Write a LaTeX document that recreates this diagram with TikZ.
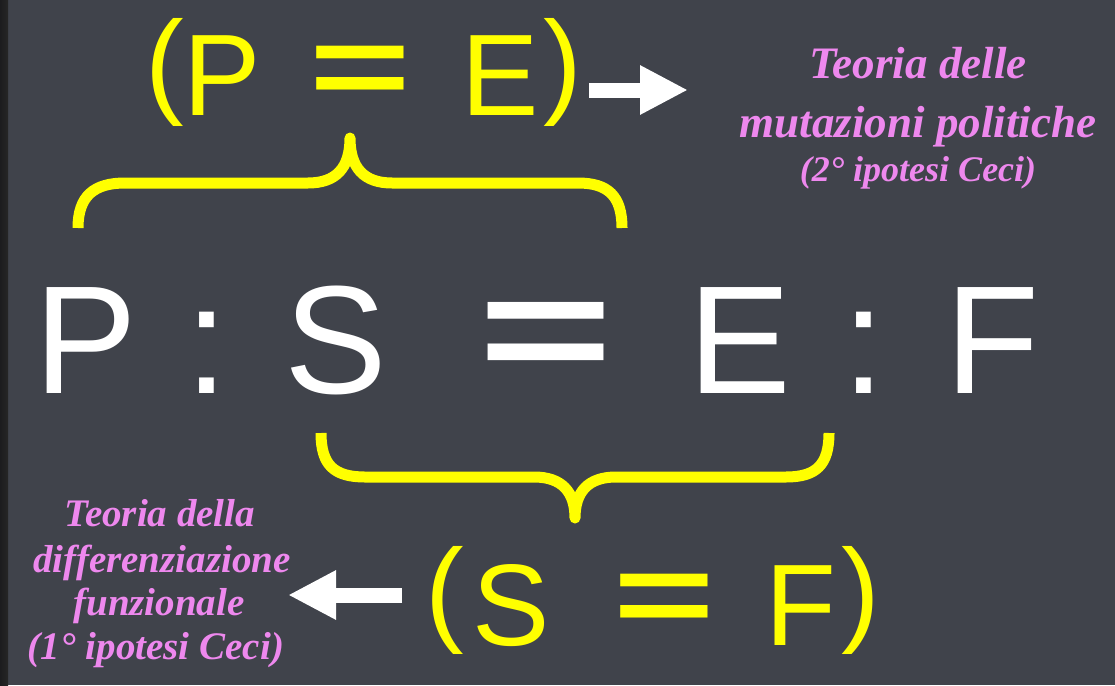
\documentclass[tikz,border=0pt]{standalone}
\usepackage{fontspec}
\setmainfont{Liberation Sans}
\newfontfamily\pinkfont{Liberation Serif}
\usetikzlibrary{arrows.meta}
\definecolor{board}{RGB}{64,67,75}
\definecolor{edgestrip}{RGB}{28,28,30}
\definecolor{chalky}{RGB}{255,255,0}
\definecolor{pinkc}{RGB}{238,136,238}
\begin{document}
\begin{tikzpicture}[x=1pt,y=-1pt,
  chalk/.style={text=white, inner sep=0pt, anchor=base, font=\fontsize{154}{160}\selectfont},
  yel/.style={text=chalky, inner sep=0pt, anchor=base, font=\fontsize{116}{120}\selectfont},
  pinkbig/.style={text=pinkc, inner sep=0pt, anchor=base, font=\pinkfont\bfseries\itshape\fontsize{45}{50}\selectfont},
  pinksmall/.style={text=pinkc, inner sep=0pt, anchor=base, font=\pinkfont\bfseries\itshape\fontsize{36}{40}\selectfont},
  pinkleft/.style={text=pinkc, inner sep=0pt, anchor=base, font=\pinkfont\bfseries\itshape\fontsize{39}{42}\selectfont},
  bracepath/.style={draw=chalky, line width=11pt, line cap=butt, line join=round},
  bigarrow/.style={draw=white, line width=15pt, -{Triangle[length=48pt,width=46pt]}}
]
\useasboundingbox (0,0) rectangle (1115,685);
\fill[board] (0,0) rectangle (1115,685);
\shade[left color=edgestrip, right color=black!85] (0,0) rectangle (8,685);

% main proportion
\node[chalk] (mP) at (86,393) {P};
\node[chalk] (mc1) at (207,393) {:};
\node[chalk] (mS) at (336,393) {S};
\node[chalk] (meq) at (546,382) {\bfseries\scalebox{1.5}[1]{=}};
\node[chalk] (mE) at (740,393) {E};
\node[chalk] (mc2) at (864,393) {:};
\node[chalk] (mF) at (993,393) {F};

% top group (P = E)
\node[yel] (tlp) at (165,102) {(};
\node[yel] (tP) at (222,115) {P};
\node[yel] (teq) at (360,106) {\bfseries\scalebox{1.5}[1]{=}};
\node[yel] (tE) at (500,115) {E};
\node[yel] (trp) at (563,102) {)};

% bottom group (S = F)
\node[yel] (blp) at (445,630) {(};
\node[yel] (bS) at (511,645) {S};
\node[yel] (beq) at (664,634) {\bfseries\scalebox{1.5}[1]{=}};
\node[yel] (bF) at (801,645) {F};
\node[yel] (brp) at (861,630) {)};

% braces
\draw[bracepath] (78,228) .. controls (78,196) and (94,183) .. (125,183)
  -- (308,183) .. controls (336,183) and (350,168) .. (350,138)
  .. controls (350,168) and (364,183) .. (392,183)
  -- (578,183) .. controls (608,183) and (622,196) .. (622,228);
\draw[bracepath] (321,433) .. controls (321,465) and (334,477) .. (365,477)
  -- (534,477) .. controls (562,477) and (575,492) .. (575,518)
  .. controls (575,492) and (588,477) .. (616,477)
  -- (786,477) .. controls (816,477) and (829,465) .. (829,433);

% right pink text
\node[pinkbig] (pR1) at (918,78) {Teoria delle};
\node[pinkbig] (pR2) at (918,137) {mutazioni politiche};
\node[pinksmall] (pR3) at (918,181) {(2° ipotesi Ceci)};

% left pink text
\node[pinkleft] (pL1) at (160,526) {Teoria della};
\node[pinkleft] (pL2) at (162,572) {differenziazione};
\node[pinkleft] (pL3) at (159,615) {funzionale};
\node[pinkleft] (pL4) at (156,659) {(1° ipotesi Ceci)};

% arrows
\coordinate (ta1) at (589,90);
\coordinate (ta2) at (688,90);
\coordinate (ba1) at (402,595);
\coordinate (ba2) at (288,595);
\draw[bigarrow] (ta1) -- (ta2);
\draw[bigarrow] (ba1) -- (ba2);
\end{tikzpicture}
\end{document}
